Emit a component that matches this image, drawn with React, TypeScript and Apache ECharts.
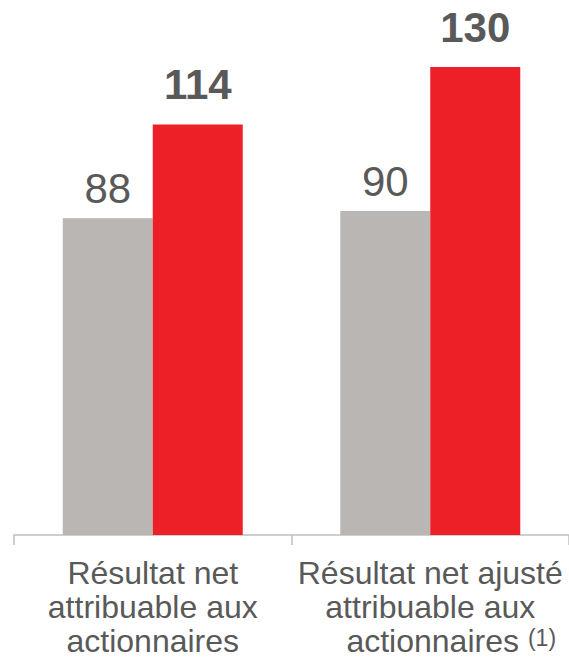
import React, { useEffect, useRef } from "react";
import * as echarts from "echarts";

const categories = [
  "Résultat net\nattribuable aux\nactionnaires",
  "Résultat net ajusté\nattribuable aux\nactionnaires",
];
const footnotes = ["", "(1)"];
const previousValues = [88, 90];
const currentValues = [114, 130];

const FONT = "'Liberation Sans', Arial, Helvetica, sans-serif";
const TEXT = "#595959";

export default function App() {
  const ref = useRef<HTMLDivElement>(null);
  useEffect(() => {
    if (!ref.current) return;
    const chart = echarts.init(ref.current, null, { renderer: "svg" });
    chart.setOption({
      animation: false,
      textStyle: { fontFamily: FONT },
      grid: { left: 14, right: -5, top: 31, bottom: 124, containLabel: false },
      xAxis: {
        type: "category",
        data: categories,
        axisLine: { show: true, lineStyle: { color: "#BFBFBF", width: 1.5 } },
        axisTick: { show: true, length: 10, lineStyle: { color: "#BFBFBF", width: 1.5 } },
        axisLabel: {
          interval: 0,
          color: TEXT,
          fontSize: 32,
          lineHeight: 34,
          fontFamily: FONT,
          margin: 21,
          formatter: (value: string, idx: number) => {
            const note = footnotes[idx];
            if (!note) return value;
            const lines = value.split("\n");
            const last = lines.pop();
            return lines.join("\n") + "\n{a|" + last + "}{sup|" + note + "}";
          },
          rich: {
            a: { fontSize: 32, lineHeight: 34, color: TEXT, fontFamily: FONT, padding: [0, 0, 0, 42] },
            sup: { fontSize: 23, color: TEXT, fontFamily: FONT, padding: [0, 0, 6, 9] },
          },
        },
      },
      yAxis: { type: "value", min: 0, max: 140, show: false, splitLine: { show: false } },
      series: [
        {
          type: "bar",
          data: previousValues,
          barWidth: 90,
          barGap: "0%",
          itemStyle: { color: "#BAB6B3" },
          label: {
            show: true,
            position: "top",
            distance: 9,
            color: TEXT,
            fontSize: 42,
            fontFamily: FONT,
          },
        },
        {
          type: "bar",
          data: currentValues,
          barWidth: 90,
          barGap: "0%",
          itemStyle: { color: "#ED1F27" },
          label: {
            show: true,
            position: "top",
            distance: 19,
            color: TEXT,
            fontSize: 42,
            fontWeight: "bold",
            fontFamily: FONT,
          },
        },
      ],
    });
    return () => chart.dispose();
  }, []);
  return (
    <div
      ref={ref}
      style={{ position: "absolute", left: 0, top: 0, width: 569, height: 659 }}
    />
  );
}
